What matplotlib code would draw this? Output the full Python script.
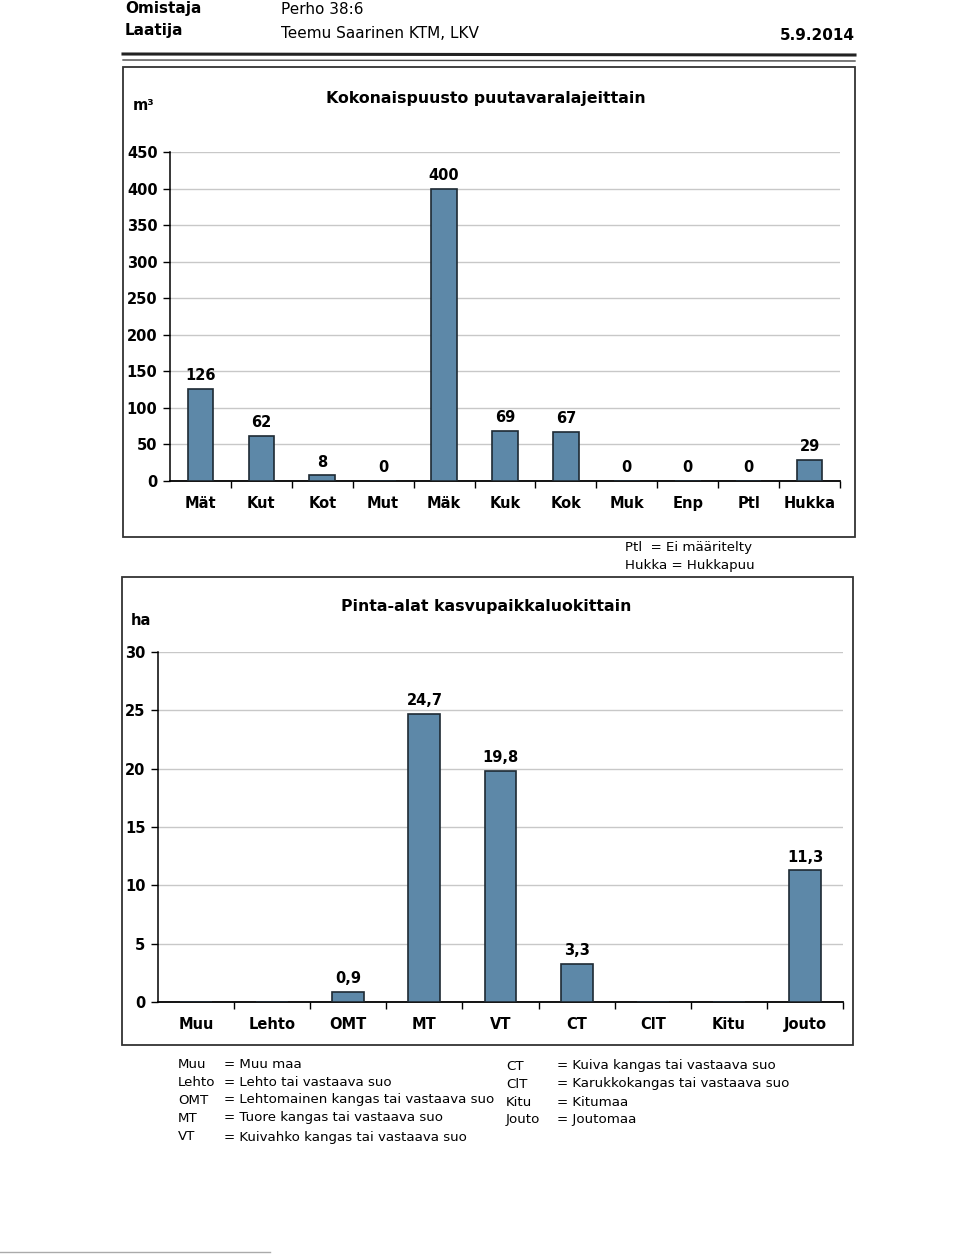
import matplotlib.pyplot as plt
from matplotlib.patches import Rectangle
from matplotlib.lines import Line2D

# data
puu_lajit = ["Mät", "Kut", "Kot", "Mut", "Mäk", "Kuk", "Kok", "Muk", "Enp", "Ptl", "Hukka"]
puu_m3 = [126, 62, 8, 0, 400, 69, 67, 0, 0, 0, 29]
puu_ticks = [0, 50, 100, 150, 200, 250, 300, 350, 400, 450]

kasvupaikat = ["Muu", "Lehto", "OMT", "MT", "VT", "CT", "ClT", "Kitu", "Jouto"]
pinta_ha = [0, 0, 0.9, 24.7, 19.8, 3.3, 0, 0, 11.3]
pinta_ticks = [0, 5, 10, 15, 20, 25, 30]

selite_vasen = [("Muu", "= Muu maa"), ("Lehto", "= Lehto tai vastaava suo"),
                ("OMT", "= Lehtomainen kangas tai vastaava suo"),
                ("MT", "= Tuore kangas tai vastaava suo"),
                ("VT", "= Kuivahko kangas tai vastaava suo")]
selite_oikea = [("CT", "= Kuiva kangas tai vastaava suo"),
                ("ClT", "= Karukkokangas tai vastaava suo"),
                ("Kitu", "= Kitumaa"), ("Jouto", "= Joutomaa")]

W, H = 960, 1254
bar_col = "#5d88a8"
edge_col = "#1e2a33"
grid_col = "#c8c8c8"

plt.rcParams['font.family'] = 'DejaVu Sans'
fig = plt.figure(figsize=(W / 100, H / 100), dpi=100)


def fx(px):
    return px / W


def fy(py):
    return 1 - py / H


def teksti(x, y, s, **kw):
    fig.text(fx(x), fy(y), s, **kw)


def pylvaat(ax, cats, vals, ticks, fmt, show_zero):
    n = len(cats)
    x = list(range(n))
    ax.bar(x, vals, width=0.42, color=bar_col, edgecolor=edge_col, linewidth=1.2, zorder=3)
    ax.set_xlim(-0.5, n - 0.5)
    ax.set_ylim(0, ticks[-1])
    ax.set_yticks(ticks)
    ax.set_yticklabels([str(t) for t in ticks], fontsize=10.5, fontweight='bold')
    ax.set_xticks(x)
    ax.set_xticklabels(cats, fontsize=10.5, fontweight='bold')
    ax.set_xticks([i + 0.5 for i in range(n)], minor=True)
    ax.tick_params(axis='x', which='major', length=0, pad=11)
    ax.tick_params(axis='x', which='minor', length=5, width=1, direction='out')
    ax.tick_params(axis='y', length=5, width=1, direction='out', pad=4)
    ax.grid(axis='y', color=grid_col, linewidth=1, zorder=0)
    for s in ['top', 'right']:
        ax.spines[s].set_visible(False)
    ax.spines['left'].set_linewidth(1.1)
    ax.spines['bottom'].set_linewidth(1.3)
    for i, v in enumerate(vals):
        if v == 0 and not show_zero:
            continue
        ax.annotate(fmt(v), (i, v), xytext=(0, 4), textcoords='offset points',
                    ha='center', va='bottom', fontsize=10.5, fontweight='bold')


# header
teksti(125, 9, "Omistaja", fontsize=11, fontweight='bold', va='center')
teksti(281, 9, "Perho 38:6", fontsize=11, va='center')
teksti(125, 31, "Laatija", fontsize=11, fontweight='bold', va='center')
teksti(281, 33, "Teemu Saarinen KTM, LKV", fontsize=11, va='center')
teksti(855, 36, "5.9.2014", fontsize=11, fontweight='bold', va='center', ha='right')
fig.add_artist(Line2D([fx(123), fx(855)], [fy(54), fy(55)], color='#222222', lw=2.2))
fig.add_artist(Line2D([fx(123), fx(855)], [fy(60), fy(61)], color='#444444', lw=1.0))

# top chart box
fig.add_artist(Rectangle((fx(123), fy(537)), fx(855) - fx(123), fy(67) - fy(537),
                         fill=False, edgecolor='#333333', lw=1.3, transform=fig.transFigure))
teksti(133, 105, "m³", fontsize=10.5, fontweight='bold', va='center')
teksti(486, 98, "Kokonaispuusto puutavaralajeittain", fontsize=11.3, fontweight='bold',
       va='center', ha='center')
ax1 = fig.add_axes([fx(170), fy(481), fx(840) - fx(170), fy(152) - fy(481)])
pylvaat(ax1, puu_lajit, puu_m3, puu_ticks, lambda v: str(v), True)

teksti(625, 548, "Ptl  = Ei määritelty", fontsize=9.6, va='center')
teksti(625, 566, "Hukka = Hukkapuu", fontsize=9.6, va='center')

# bottom chart box
fig.add_artist(Rectangle((fx(122), fy(1045)), fx(853) - fx(122), fy(577) - fy(1045),
                         fill=False, edgecolor='#333333', lw=1.3, transform=fig.transFigure))
teksti(131, 620, "ha", fontsize=10.5, fontweight='bold', va='center')
teksti(486, 607, "Pinta-alat kasvupaikkaluokittain", fontsize=11.3, fontweight='bold',
       va='center', ha='center')
ax2 = fig.add_axes([fx(158), fy(1002), fx(843) - fx(158), fy(652) - fy(1002)])
pylvaat(ax2, kasvupaikat, pinta_ha, pinta_ticks, lambda v: f"{v:.1f}".replace('.', ','), False)

# legend
rivit = [1064, 1082, 1100, 1118, 1137]
for (a, b), y in zip(selite_vasen, rivit):
    teksti(178, y, a, fontsize=9.6, va='center')
    teksti(224, y, b, fontsize=9.6, va='center')
for (a, b), y in zip(selite_oikea, rivit):
    teksti(506, y + 2, a, fontsize=9.6, va='center')
    teksti(557, y + 2, b, fontsize=9.6, va='center')

fig.add_artist(Line2D([fx(0), fx(270)], [fy(1252), fy(1252)], color='#aaaaaa', lw=1))

fig.savefig("out.png", dpi=100)
